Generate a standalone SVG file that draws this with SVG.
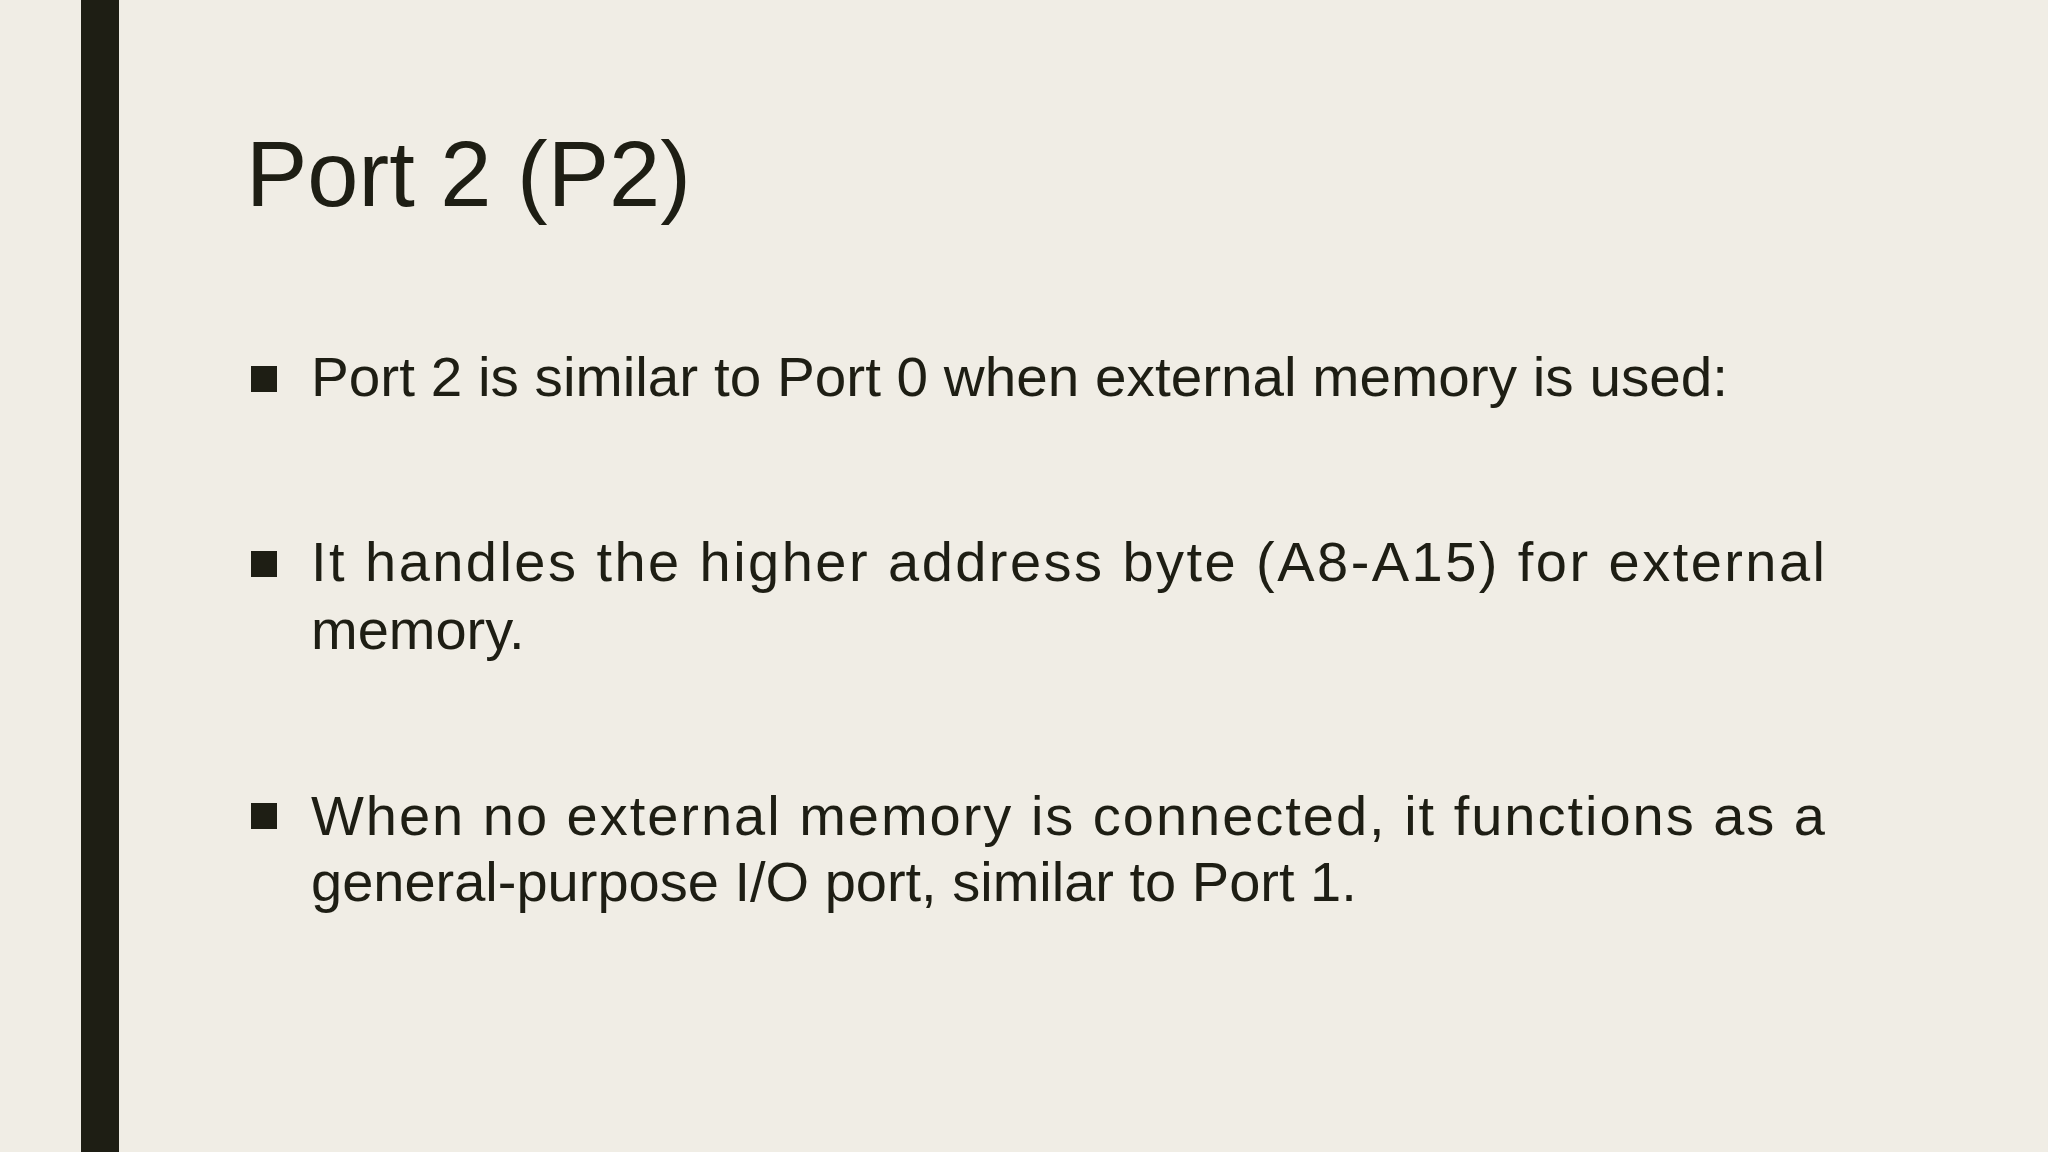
<svg xmlns="http://www.w3.org/2000/svg" width="2048" height="1152" viewBox="0 0 2048 1152">
<style>
.t{font-family:"Liberation Sans","Noto Sans",sans-serif;fill:#1e1e14}
.b{font-size:56px}
.sq{fill:#1e1e14}
</style>
<rect width="2048" height="1152" fill="#f0ede5"/>
<rect x="81" y="0" width="38" height="1152" fill="#1e1e14"/>
<g id="title"><text class="t" x="246" y="206" font-size="92">Port 2 (P2)</text></g>
<g id="bullet1">
<rect class="sq" x="251" y="366" width="26" height="26"/>
<text class="t b" x="311" y="396" textLength="1417" lengthAdjust="spacingAndGlyphs">Port 2 is similar to Port 0 when external memory is used:</text>
</g>
<g id="bullet2">
<rect class="sq" x="251" y="551" width="26" height="26"/>
<text class="t b" x="311" y="581" textLength="1514" lengthAdjust="spacing">It handles the higher address byte (A8-A15) for external</text>
<text class="t b" x="311" y="649">memory.</text>
</g>
<g id="bullet3">
<rect class="sq" x="251" y="803" width="26" height="26"/>
<text class="t b" x="311" y="835" textLength="1514" lengthAdjust="spacing">When no external memory is connected, it functions as a</text>
<text class="t b" x="311" y="901">general-purpose I/O port, similar to Port 1.</text>
</g>
</svg>
